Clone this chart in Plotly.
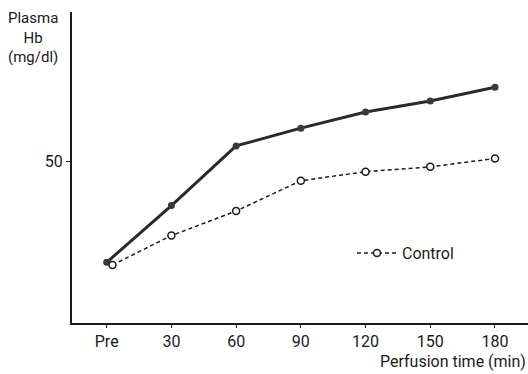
import plotly.graph_objects as go

categories = ["Pre", "30", "60", "90", "120", "150", "180"]
perfusion_hb = [18.8, 36.4, 54.9, 60.4, 65.4, 68.8, 73.1]
control_hb = [18.0, 27.1, 34.7, 44.1, 46.9, 48.4, 51.0]
control_x_offset = [0.09, 0, 0, 0, 0, 0, 0]

xi = list(range(len(categories)))
xc = [a + b for a, b in zip(xi, control_x_offset)]

FONT = "Roboto, Liberation Sans Narrow, sans-serif"
INK = "#1a1a1a"

fig = go.Figure()
fig.add_trace(go.Scatter(
    x=xi, y=perfusion_hb, mode="lines+markers", name="Perfusion",
    showlegend=False,
    line=dict(color="#2a2a2a", width=3),
    marker=dict(symbol="circle", size=7, color="#3a3a3a"),
))
fig.add_trace(go.Scatter(
    x=xc, y=control_hb, mode="lines+markers", name="Control",
    line=dict(color="#1a1a1a", width=1.5, dash="4px,3px"),
    marker=dict(symbol="circle", size=7, color="white",
                line=dict(color="#1a1a1a", width=1.5)),
))

fig.update_layout(
    width=528, height=374,
    margin=dict(l=72, r=0, t=12, b=51, autoexpand=False),
    paper_bgcolor="white", plot_bgcolor="white",
    font=dict(family=FONT, size=14, color=INK),
    legend=dict(x=0.614, y=0.225, xanchor="left", yanchor="middle",
                itemwidth=40,
                bgcolor="rgba(0,0,0,0)", font=dict(size=16)),
    xaxis=dict(
        range=[-0.536, 6.51], tickmode="array", tickvals=xi, ticktext=categories,
        showgrid=False, zeroline=False, showline=True, linecolor=INK, linewidth=2,
        ticks="outside", ticklen=3, tickcolor=INK, tickfont=dict(size=16),
        automargin=False,
    ),
    yaxis=dict(
        range=[0, 96.4], tickmode="array", tickvals=[50], ticktext=["50"],
        showgrid=False, zeroline=False, showline=True, linecolor=INK, linewidth=2,
        ticks="outside", ticklen=4, tickcolor=INK, tickfont=dict(size=16),
        automargin=False,
    ),
    annotations=[
        dict(text="Plasma<br>Hb<br>(mg/dl)", xref="paper", yref="paper",
             x=-0.085, y=1.015, xanchor="center", yanchor="top", showarrow=False,
             align="center", font=dict(size=15, color=INK)),
        dict(text="Perfusion time (min)", xref="paper", yref="paper",
             x=1.0, y=-0.16, xanchor="right", yanchor="bottom", showarrow=False,
             font=dict(size=16, color=INK)),
    ],
)

fig.write_html("out.html",
               config={"displayModeBar": False},
               post_script="document.body.style.margin='0';document.body.style.overflow='hidden';")
